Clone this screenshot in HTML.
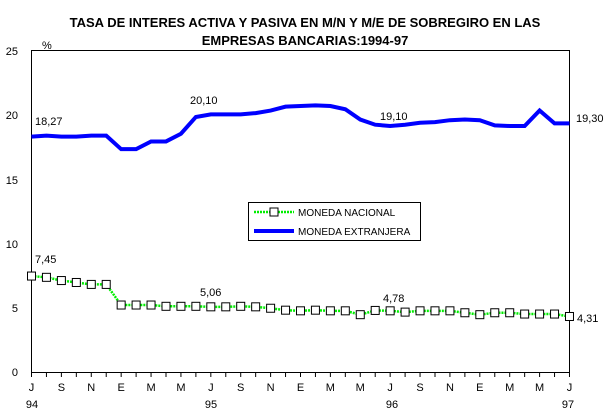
<!DOCTYPE html>
<html><head><style>body{margin:0;background:#fff}svg{display:block;font-family:"Liberation Sans",Arial,sans-serif}</style></head>
<body>
<svg id="s" width="611" height="419" xmlns="http://www.w3.org/2000/svg">
<text x="305" y="27" text-anchor="middle" font-size="13" font-weight="bold">TASA DE INTERES ACTIVA Y PASIVA EN M/N Y M/E DE SOBREGIRO EN LAS</text>
<text x="305" y="45" text-anchor="middle" font-size="13" font-weight="bold">EMPRESAS BANCARIAS:1994-97</text>
<text x="42" y="49" font-size="11">%</text>
<g font-size="11" text-anchor="end">
<text x="18" y="55">25</text><text x="18" y="119">20</text><text x="18" y="184">15</text>
<text x="18" y="248">10</text><text x="18" y="312">5</text><text x="18" y="376">0</text>
</g>
<line x1="31.5" y1="50" x2="31.5" y2="372" stroke="#000"/>
<line x1="569.5" y1="50" x2="569.5" y2="372" stroke="#000"/>
<line x1="31.5" y1="50.5" x2="569.5" y2="50.5" stroke="#000"/>
<line x1="31.5" y1="372.5" x2="569.5" y2="372.5" stroke="#000"/>
<g id="ticks" stroke="#000"></g>
<g id="xl" font-size="11" text-anchor="middle"></g>
<g font-size="11" text-anchor="middle">
<text x="32" y="408">94</text><text x="211" y="408">95</text><text x="392" y="408">96</text><text x="568" y="408">97</text>
</g>
<polyline id="me" fill="none" stroke="#0000ff" stroke-width="4"/>
<polyline id="mn" fill="none" stroke="#00ee00" stroke-width="2.5" stroke-dasharray="2,1"/>
<g id="mk" fill="#fff" stroke="#000"></g>
<g font-size="11">
<text x="35" y="125">18,27</text><text x="190" y="104">20,10</text><text x="380" y="120">19,10</text><text x="576" y="122">19,30</text>
<text x="35" y="263">7,45</text><text x="200" y="296">5,06</text><text x="383" y="302">4,78</text><text x="577" y="322">4,31</text>
</g>
<rect x="248.5" y="202.5" width="172" height="38" fill="#fff" stroke="#000"/>
<line x1="254" y1="212" x2="294" y2="212" stroke="#00ee00" stroke-width="2.5" stroke-dasharray="2,1"/>
<rect x="270" y="208" width="8" height="8" fill="#fff" stroke="#000"/>
<text x="298" y="216" font-size="10">MONEDA NACIONAL</text>
<line x1="254" y1="231" x2="294" y2="231" stroke="#0000ff" stroke-width="4"/>
<text x="298" y="235" font-size="10">MONEDA EXTRANJERA</text>
</svg>
<script>
var mn=[7.45,7.35,7.1,6.95,6.8,6.8,5.2,5.2,5.2,5.1,5.1,5.1,5.06,5.06,5.1,5.06,4.95,4.8,4.75,4.8,4.75,4.75,4.45,4.78,4.75,4.65,4.75,4.75,4.75,4.6,4.45,4.6,4.6,4.5,4.5,4.5,4.31];
var me=[18.27,18.35,18.27,18.27,18.35,18.35,17.3,17.3,17.9,17.9,18.5,19.8,20.0,20.0,20.0,20.1,20.3,20.6,20.65,20.7,20.65,20.4,19.6,19.2,19.1,19.2,19.35,19.4,19.55,19.6,19.55,19.15,19.1,19.1,20.3,19.3,19.3];
function X(i){return 31.5+i*14.944}function Y(v){return 372-v*12.88}
var a=[],b=[],mk="",t="",xl="",L="JASONDEFMAMJJASONDEFMAMJJASONDEFMAMJJ";
for(var i=0;i<37;i++){a.push(X(i)+","+Y(me[i]));b.push(X(i)+","+Y(mn[i]));
mk+='<rect x="'+(X(i)-4)+'" y="'+(Y(mn[i])-4)+'" width="8" height="8"/>';
t+='<line x1="'+X(i)+'" y1="372" x2="'+X(i)+'" y2="377"/>';
if(i%2==0)xl+='<text x="'+X(i)+'" y="391">'+L[i]+'</text>';}
document.getElementById("me").setAttribute("points",a.join(" "));
document.getElementById("mn").setAttribute("points",b.join(" "));
document.getElementById("mk").innerHTML=mk;
document.getElementById("ticks").innerHTML=t;
document.getElementById("xl").innerHTML=xl;
</script>
</body></html>
